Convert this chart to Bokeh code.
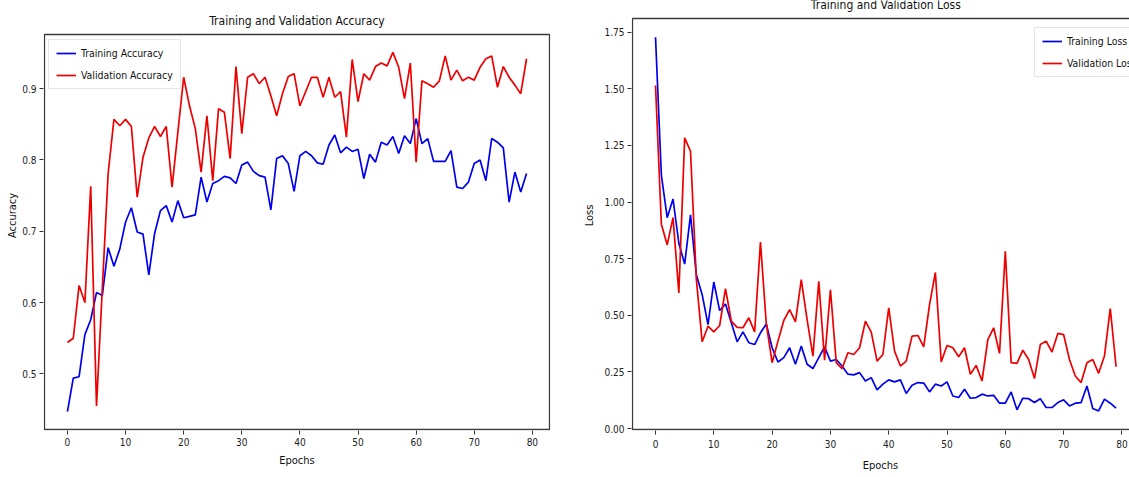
from bokeh.plotting import figure
from bokeh.layouts import row
from bokeh.models import (Range1d, FixedTicker, Legend, LegendItem, NumeralTickFormatter,
                          Label, BoxAnnotation)
from bokeh.embed import file_html
from bokeh.resources import INLINE

epochs = list(range(80))

train_acc = [0.447, 0.494, 0.496, 0.555, 0.576, 0.614, 0.610, 0.677, 0.651, 0.675,
             0.713, 0.733, 0.699, 0.696, 0.639, 0.697, 0.729, 0.736, 0.713, 0.743,
             0.719, 0.721, 0.723, 0.776, 0.741, 0.767, 0.771, 0.777, 0.775, 0.767,
             0.793, 0.797, 0.784, 0.778, 0.776, 0.730, 0.802, 0.806, 0.795, 0.756,
             0.806, 0.812, 0.806, 0.796, 0.794, 0.821, 0.835, 0.810, 0.818, 0.812,
             0.815, 0.774, 0.808, 0.797, 0.825, 0.821, 0.833, 0.809, 0.834, 0.823,
             0.858, 0.823, 0.830, 0.798, 0.798, 0.798, 0.813, 0.762, 0.760, 0.769,
             0.795, 0.800, 0.771, 0.830, 0.825, 0.817, 0.741, 0.783, 0.755, 0.781]

val_acc = [0.544, 0.550, 0.624, 0.600, 0.763, 0.455, 0.620, 0.781, 0.857, 0.848,
           0.857, 0.847, 0.748, 0.804, 0.831, 0.847, 0.833, 0.847, 0.762, 0.839,
           0.916, 0.876, 0.844, 0.783, 0.862, 0.771, 0.872, 0.867, 0.802, 0.931,
           0.837, 0.916, 0.921, 0.907, 0.916, 0.890, 0.862, 0.893, 0.917, 0.921,
           0.876, 0.896, 0.916, 0.916, 0.888, 0.916, 0.888, 0.896, 0.832, 0.941,
           0.882, 0.921, 0.912, 0.931, 0.936, 0.932, 0.951, 0.930, 0.886, 0.936,
           0.797, 0.911, 0.907, 0.902, 0.911, 0.946, 0.912, 0.926, 0.911, 0.916,
           0.912, 0.930, 0.942, 0.946, 0.902, 0.931, 0.916, 0.905, 0.893, 0.942]

train_loss = [1.727, 1.119, 0.931, 1.013, 0.818, 0.726, 0.943, 0.679, 0.591, 0.459,
              0.647, 0.521, 0.550, 0.467, 0.383, 0.427, 0.379, 0.371, 0.423, 0.462,
              0.357, 0.294, 0.313, 0.357, 0.284, 0.364, 0.284, 0.265, 0.313, 0.361,
              0.298, 0.305, 0.276, 0.240, 0.237, 0.247, 0.210, 0.225, 0.171, 0.196,
              0.215, 0.206, 0.215, 0.155, 0.191, 0.203, 0.201, 0.162, 0.196, 0.188,
              0.206, 0.144, 0.137, 0.174, 0.134, 0.137, 0.152, 0.144, 0.147, 0.112,
              0.112, 0.162, 0.083, 0.134, 0.132, 0.115, 0.132, 0.093, 0.093, 0.115,
              0.127, 0.100, 0.112, 0.115, 0.188, 0.089, 0.078, 0.130, 0.112, 0.090]

val_loss = [1.514, 0.902, 0.811, 0.931, 0.599, 1.283, 1.224, 0.660, 0.383, 0.452,
            0.427, 0.455, 0.618, 0.474, 0.447, 0.445, 0.489, 0.427, 0.823, 0.462,
            0.291, 0.386, 0.477, 0.525, 0.471, 0.657, 0.481, 0.320, 0.650, 0.302,
            0.613, 0.291, 0.265, 0.335, 0.327, 0.357, 0.474, 0.426, 0.298, 0.327,
            0.533, 0.342, 0.276, 0.298, 0.408, 0.411, 0.361, 0.547, 0.689, 0.294,
            0.367, 0.357, 0.317, 0.357, 0.240, 0.279, 0.210, 0.393, 0.445, 0.332,
            0.782, 0.291, 0.288, 0.346, 0.305, 0.221, 0.371, 0.386, 0.338, 0.420,
            0.415, 0.305, 0.232, 0.203, 0.291, 0.305, 0.244, 0.320, 0.530, 0.273]

x_ticks = [0, 10, 20, 30, 40, 50, 60, 70, 80]
acc_ticks = [0.5, 0.6, 0.7, 0.8, 0.9]
loss_ticks = [0.0, 0.25, 0.5, 0.75, 1.0, 1.25, 1.5, 1.75]

FONT = "DejaVu Sans Condensed, Liberation Sans Narrow, DejaVu Sans"
BLUE = "#0000ee"
RED = "#ee0000"
SPINE = "#3a3a3a"

H = 477
BOTTOM = 47          # space below the frame (frame spans canvas y 0..430)
FRAME_H = H - BOTTOM

# axes box (matplotlib-like) limits in data units
acc_x = (-3.95, 82.95)
acc_y = (0.422, 0.976)
loss_x = (-3.95, 82.95)
loss_y = (-0.004, 1.81)

# pixel placement of the axes boxes inside each canvas
acc_box_top, acc_box_bottom = 34, 429
loss_box_top, loss_box_bottom = 18, 429


def yrange_for(lo, hi, top_px, bottom_px):
    ppu = (bottom_px - top_px) / (hi - lo)
    return lo - (FRAME_H - bottom_px) / ppu, hi + top_px / ppu, ppu


def style(p, yticks, yfmt):
    p.xgrid.visible = False
    p.ygrid.visible = False
    p.outline_line_color = None
    p.xaxis.ticker = FixedTicker(ticks=x_ticks)
    p.yaxis.ticker = FixedTicker(ticks=yticks)
    p.yaxis.formatter = NumeralTickFormatter(format=yfmt)
    for ax in (p.xaxis[0], p.yaxis[0]):
        ax.axis_line_color = None
        ax.major_label_text_font = FONT
        ax.major_label_text_font_size = "10px"
        ax.major_label_text_color = "#222222"
        ax.axis_label_text_font = FONT
        ax.axis_label_text_font_size = "11px"
        ax.axis_label_text_font_style = "normal"
        ax.axis_label_text_color = "#111111"
        ax.major_tick_out = 4
        ax.major_tick_in = 0
        ax.minor_tick_out = 0
        ax.minor_tick_in = 0
        ax.major_tick_line_color = "#333333"
        ax.major_label_standoff = 3
        ax.axis_label_standoff = 5
    p.background_fill_color = "white"
    p.border_fill_color = "white"


def style_legend(leg):
    leg.label_text_font = FONT
    leg.label_text_font_size = "10.4px"
    leg.label_text_color = "#111111"
    leg.glyph_width = 20
    leg.glyph_height = 12
    leg.label_height = 12
    leg.label_standoff = 5
    leg.spacing = 10
    leg.padding = 7
    leg.margin = 0
    leg.border_line_color = "#cccccc"
    leg.border_line_width = 1
    leg.background_fill_alpha = 0.9


# ---------- Left: accuracy ----------
ax_ppu = (549 - 44) / (acc_x[1] - acc_x[0])
y0, y1, acc_ppu = yrange_for(acc_y[0], acc_y[1], acc_box_top, acc_box_bottom)
p1 = figure(width=580, height=H, output_backend="svg", toolbar_location=None,
            x_range=Range1d(acc_x[0] - 1 / ax_ppu, acc_x[1] + 1 / ax_ppu),
            y_range=Range1d(y0, y1),
            min_border_left=43, min_border_right=30, min_border_top=0, min_border_bottom=BOTTOM)
style(p1, acc_ticks, "0.0")
p1.xaxis.axis_label = "Epochs"
p1.yaxis.axis_label = "Accuracy"
p1.yaxis.axis_label_standoff = 0
p1.add_layout(BoxAnnotation(left=acc_x[0], right=acc_x[1], bottom=acc_y[0], top=acc_y[1],
                            fill_alpha=0, line_color=SPINE, line_alpha=1.0, line_width=1.3))
p1.add_layout(Label(x=(acc_x[0] + acc_x[1]) / 2, y=acc_y[1] + 14 / acc_ppu,
                    text="Training and Validation Accuracy", text_align="center",
                    text_baseline="middle", text_font=FONT, text_font_size="12px",
                    text_color="#111111"))
r1 = p1.line(epochs, train_acc, line_color=BLUE, line_width=1.7)
r2 = p1.line(epochs, val_acc, line_color=RED, line_width=1.7)
leg1 = Legend(items=[LegendItem(label="Training Accuracy", renderers=[r1]),
                     LegendItem(label="Validation Accuracy", renderers=[r2])],
              location=(5, FRAME_H - 89), orientation="vertical")
style_legend(leg1)
p1.add_layout(leg1)

# ---------- Right: loss ----------
lx_ppu = 5.83
ly0, ly1, loss_ppu = yrange_for(loss_y[0], loss_y[1], loss_box_top, loss_box_bottom)
p2 = figure(width=549, height=H, output_backend="svg", toolbar_location=None,
            x_range=Range1d(loss_x[0] - 1 / lx_ppu, loss_x[0] + (549 - 51 - 1) / lx_ppu),
            y_range=Range1d(ly0, ly1),
            min_border_left=51, min_border_right=0, min_border_top=0, min_border_bottom=BOTTOM)
style(p2, loss_ticks, "0.00")
p2.xaxis.axis_label = "Epochs"
p2.yaxis.axis_label = "Loss"
p2.xaxis.major_label_standoff = 5
p2.xaxis.axis_label_standoff = 8
p2.add_layout(BoxAnnotation(left=loss_x[0], right=loss_x[1], bottom=loss_y[0], top=loss_y[1],
                            fill_alpha=0, line_color=SPINE, line_alpha=1.0, line_width=1.3))
p2.add_layout(Label(x=(loss_x[0] + loss_x[1]) / 2, y=loss_y[1] + 14 / loss_ppu,
                    text="Training and Validation Loss", text_align="center",
                    text_baseline="middle", text_font=FONT, text_font_size="12px",
                    text_color="#111111"))
r3 = p2.line(epochs, train_loss, line_color=BLUE, line_width=1.7)
r4 = p2.line(epochs, val_loss, line_color=RED, line_width=1.7)
leg2 = Legend(items=[LegendItem(label="Training Loss", renderers=[r3]),
                     LegendItem(label="Validation Loss", renderers=[r4])],
              location=(403, FRAME_H - 77), orientation="vertical")
style_legend(leg2)
p2.add_layout(leg2)

layout = row(p1, p2)
open("out.html", "w").write(file_html(layout, INLINE))
